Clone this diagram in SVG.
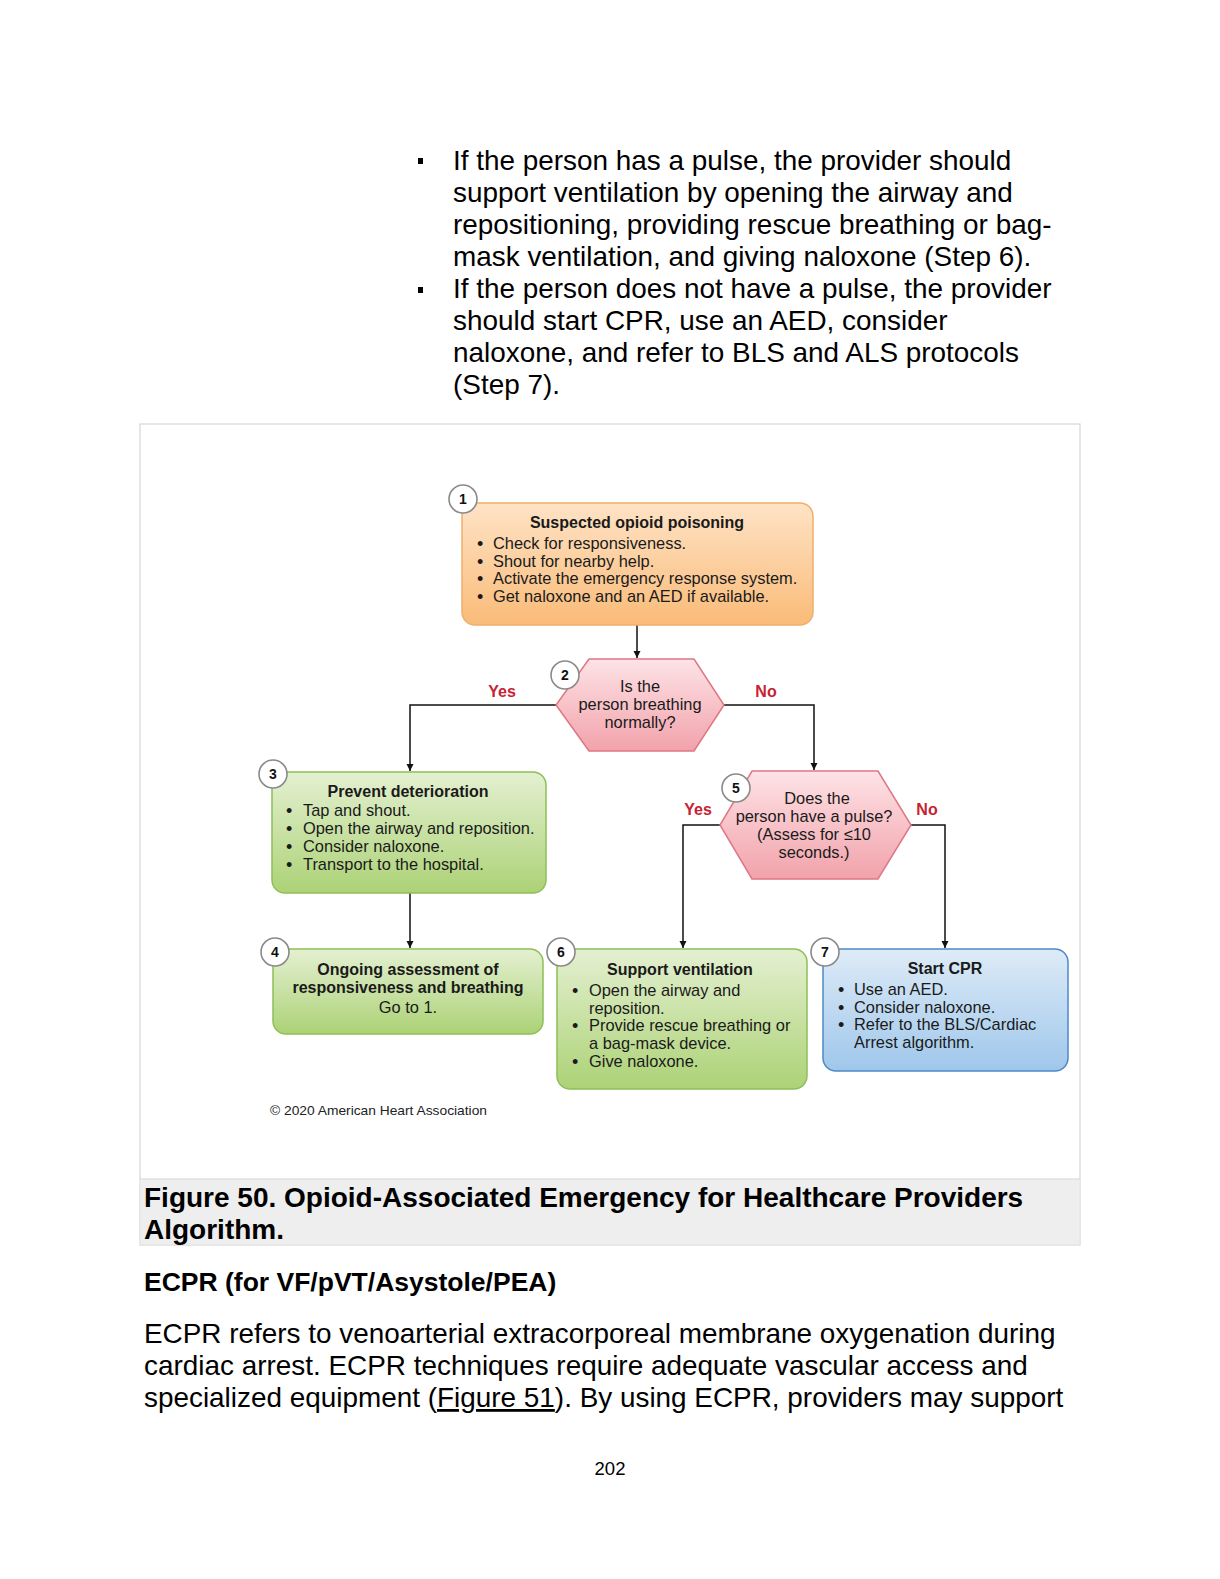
<svg xmlns="http://www.w3.org/2000/svg" width="1220" height="1579" viewBox="0 0 1220 1579">
<style>
.page{font-family:"Liberation Sans",Arial,sans-serif;fill:#000}
.body{font-size:27.9px}
.dg{font-family:"Liberation Sans",Arial,sans-serif;fill:#1a1a1a;font-size:16.4px}
.b{font-family:"Liberation Sans",Arial,sans-serif;fill:#1a1a1a;font-size:18px}
.t{font-weight:bold;text-anchor:middle;font-size:16px}
.c{text-anchor:middle}
.num{font-family:"Liberation Sans",Arial,sans-serif;font-weight:bold;font-size:14px;text-anchor:middle;fill:#111}
.badge{fill:#fff;stroke:#8a8a8a;stroke-width:1.6}
.lbl{font-family:"Liberation Sans",Arial,sans-serif;font-weight:bold;font-size:16px;fill:#c62333;text-anchor:middle}
.conn{fill:none;stroke:#111;stroke-width:1.5}
</style>
<defs>
<linearGradient id="gO" x1="0" y1="0" x2="0" y2="1"><stop offset="0" stop-color="#fee3c6"/><stop offset="1" stop-color="#fabb78"/></linearGradient>
<linearGradient id="gG" x1="0" y1="0" x2="0" y2="1"><stop offset="0" stop-color="#e4f0d1"/><stop offset="1" stop-color="#acd276"/></linearGradient>
<linearGradient id="gB" x1="0" y1="0" x2="0" y2="1"><stop offset="0" stop-color="#deebf7"/><stop offset="1" stop-color="#9fc7eb"/></linearGradient>
<linearGradient id="gP" x1="0" y1="0" x2="0" y2="1"><stop offset="0" stop-color="#fde3e6"/><stop offset="1" stop-color="#f2a2ab"/></linearGradient>
<marker id="arr" markerWidth="8" markerHeight="8" refX="7" refY="4" orient="auto" markerUnits="userSpaceOnUse"><path d="M0,0.5 L7,4 L0,7.5 Z" fill="#111"/></marker>
</defs>
<rect width="1220" height="1579" fill="#fff"/>

<!-- top text -->
<g class="page body">
<rect x="418" y="158" width="5" height="6" fill="#000"/>
<rect x="418" y="287" width="5" height="6" fill="#000"/>
<text x="453" y="170">If the person has a pulse, the provider should</text>
<text x="453" y="202">support ventilation by opening the airway and</text>
<text x="453" y="234">repositioning, providing rescue breathing or bag-</text>
<text x="453" y="266">mask ventilation, and giving naloxone (Step 6).</text>
<text x="453" y="298">If the person does not have a pulse, the provider</text>
<text x="453" y="330">should start CPR, use an AED, consider</text>
<text x="453" y="362">naloxone, and refer to BLS and ALS protocols</text>
<text x="453" y="394">(Step 7).</text>
</g>

<!-- figure frame -->
<rect x="140" y="424" width="940" height="821" fill="#fff" stroke="#d6d6d6" stroke-width="1.2"/>
<rect x="140.6" y="1179" width="938.8" height="65.4" fill="#eeeeee"/>
<line x1="140" y1="1179" x2="1080" y2="1179" stroke="#d6d6d6" stroke-width="1.2"/>
<g class="page" font-weight="bold" font-size="28">
<text x="144" y="1207">Figure 50. Opioid-Associated Emergency for Healthcare Providers</text>
<text x="144" y="1239">Algorithm.</text>
</g>

<!-- connectors -->
<g id="connectors">
<path class="conn" d="M637,625 V658" marker-end="url(#arr)"/>
<path class="conn" d="M556,705 H410 V771" marker-end="url(#arr)"/>
<path class="conn" d="M724,705 H814 V770" marker-end="url(#arr)"/>
<path class="conn" d="M410,893 V948" marker-end="url(#arr)"/>
<path class="conn" d="M720,825 H683 V948" marker-end="url(#arr)"/>
<path class="conn" d="M911,825 H945 V948" marker-end="url(#arr)"/>
<text class="lbl" x="502" y="697">Yes</text>
<text class="lbl" x="766" y="697">No</text>
<text class="lbl" x="698" y="815">Yes</text>
<text class="lbl" x="927" y="815">No</text>
</g>

<!-- node 1 -->
<g id="node1">
<rect x="462" y="503" width="351" height="122" rx="13" fill="url(#gO)" stroke="#f1ae6a" stroke-width="1.5"/>
<circle class="badge" cx="463" cy="499" r="14"/>
<text class="num" x="463" y="504">1</text>
<text class="dg t" x="637" y="528">Suspected opioid poisoning</text>
<text class="b" x="477" y="550">•</text><text class="dg" x="493" y="549">Check for responsiveness.</text>
<text class="b" x="477" y="568">•</text><text class="dg" x="493" y="567">Shout for nearby help.</text>
<text class="b" x="477" y="585">•</text><text class="dg" x="493" y="584">Activate the emergency response system.</text>
<text class="b" x="477" y="603">•</text><text class="dg" x="493" y="602">Get naloxone and an AED if available.</text>
</g>

<!-- node 2 -->
<g id="node2">
<polygon points="589,659 694,659 724,705 694,751 589,751 556,705" fill="url(#gP)" stroke="#de7784" stroke-width="1.5"/>
<circle class="badge" cx="565" cy="675" r="14"/>
<text class="num" x="565" y="680">2</text>
<text class="dg c" x="640" y="692">Is the</text>
<text class="dg c" x="640" y="710">person breathing</text>
<text class="dg c" x="640" y="728">normally?</text>
</g>

<!-- node 3 -->
<g id="node3">
<rect x="272" y="772" width="274" height="121" rx="13" fill="url(#gG)" stroke="#8fbf57" stroke-width="1.5"/>
<circle class="badge" cx="273" cy="774" r="14"/>
<text class="num" x="273" y="779">3</text>
<text class="dg t" x="408" y="797">Prevent deterioration</text>
<text class="b" x="286" y="817">•</text><text class="dg" x="303" y="816">Tap and shout.</text>
<text class="b" x="286" y="835">•</text><text class="dg" x="303" y="834">Open the airway and reposition.</text>
<text class="b" x="286" y="853">•</text><text class="dg" x="303" y="852">Consider naloxone.</text>
<text class="b" x="286" y="871">•</text><text class="dg" x="303" y="870">Transport to the hospital.</text>
</g>

<!-- node 4 -->
<g id="node4">
<rect x="273" y="949" width="270" height="85" rx="13" fill="url(#gG)" stroke="#8fbf57" stroke-width="1.5"/>
<circle class="badge" cx="275" cy="952" r="14"/>
<text class="num" x="275" y="957">4</text>
<text class="dg t" x="408" y="975">Ongoing assessment of</text>
<text class="dg t" x="408" y="993">responsiveness and breathing</text>
<text class="dg c" x="408" y="1013">Go to 1.</text>
</g>

<!-- node 5 -->
<g id="node5">
<polygon points="752,771 878,771 911,825 878,879 752,879 720,825" fill="url(#gP)" stroke="#de7784" stroke-width="1.5"/>
<circle class="badge" cx="736" cy="788" r="14"/>
<text class="num" x="736" y="793">5</text>
<text class="dg c" x="817" y="804">Does the</text>
<text class="dg c" x="814" y="822">person have a pulse?</text>
<text class="dg c" x="814" y="840">(Assess for ≤10</text>
<text class="dg c" x="814" y="858">seconds.)</text>
</g>

<!-- node 6 -->
<g id="node6">
<rect x="557" y="949" width="250" height="140" rx="13" fill="url(#gG)" stroke="#8fbf57" stroke-width="1.5"/>
<circle class="badge" cx="561" cy="952" r="14"/>
<text class="num" x="561" y="957">6</text>
<text class="dg t" x="680" y="975">Support ventilation</text>
<text class="b" x="572" y="997">•</text><text class="dg" x="589" y="996">Open the airway and</text>
<text class="dg" x="589" y="1014">reposition.</text>
<text class="b" x="572" y="1032">•</text><text class="dg" x="589" y="1031">Provide rescue breathing or</text>
<text class="dg" x="589" y="1049">a bag-mask device.</text>
<text class="b" x="572" y="1068">•</text><text class="dg" x="589" y="1067">Give naloxone.</text>
</g>

<!-- node 7 -->
<g id="node7">
<rect x="823" y="949" width="245" height="122" rx="13" fill="url(#gB)" stroke="#4e89c7" stroke-width="1.5"/>
<circle class="badge" cx="825" cy="952" r="14"/>
<text class="num" x="825" y="957">7</text>
<text class="dg t" x="945" y="974">Start CPR</text>
<text class="b" x="838" y="996">•</text><text class="dg" x="854" y="995">Use an AED.</text>
<text class="b" x="838" y="1014">•</text><text class="dg" x="854" y="1013">Consider naloxone.</text>
<text class="b" x="838" y="1031">•</text><text class="dg" x="854" y="1030">Refer to the BLS/Cardiac</text>
<text class="dg" x="854" y="1048">Arrest algorithm.</text>
</g>

<text x="270" y="1115" font-family="'Liberation Sans',Arial,sans-serif" font-size="13.5" fill="#222" textLength="217" lengthAdjust="spacingAndGlyphs">© 2020 American Heart Association</text>

<!-- lower text -->
<g class="page">
<text x="144" y="1291" font-size="26.5" font-weight="bold">ECPR (for VF/pVT/Asystole/PEA)</text>
<text class="body" x="144" y="1343">ECPR refers to venoarterial extracorporeal membrane oxygenation during</text>
<text class="body" x="144" y="1375">cardiac arrest. ECPR techniques require adequate vascular access and</text>
<text class="body" x="144" y="1407">specialized equipment (<tspan text-decoration="underline">Figure 51</tspan>). By using ECPR, providers may support</text>
<text x="610" y="1475" font-size="18.5" text-anchor="middle">202</text>
</g>
</svg>
